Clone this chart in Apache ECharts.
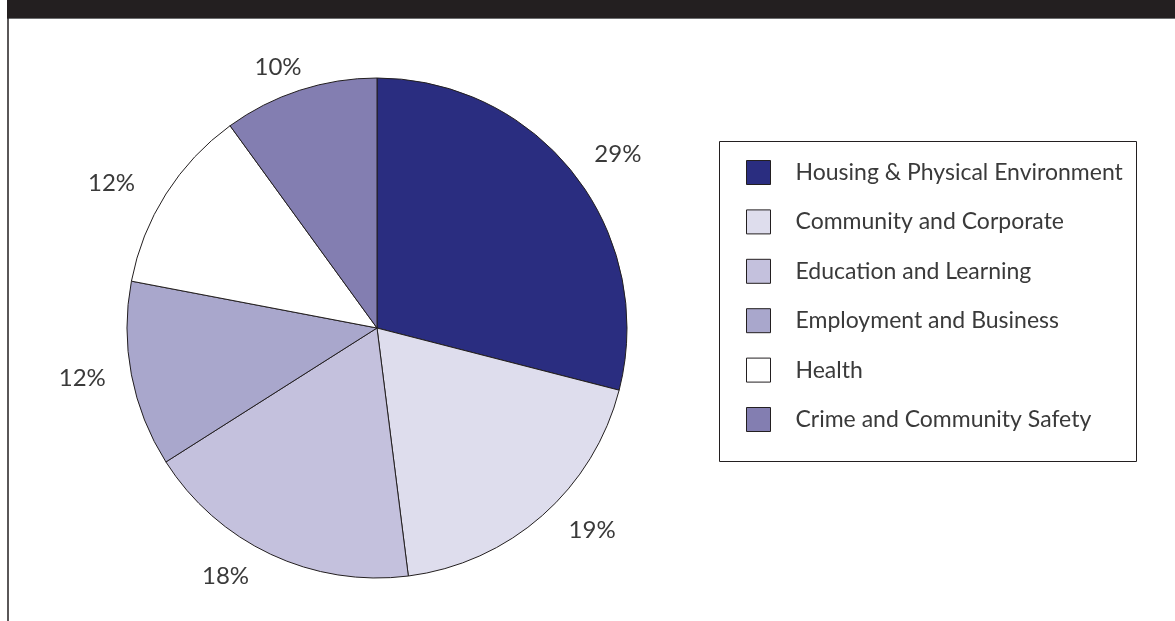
<!DOCTYPE html>
<html>
<head>
<meta charset="utf-8">
<title>Share by theme</title>
<script src="https://cdn.jsdelivr.net/npm/echarts@6/dist/echarts.min.js"></script>
<style>
  html, body { margin: 0; padding: 0; background: #ffffff; }
  #chart { width: 1175px; height: 621px; }
</style>
</head>
<body>
<div id="chart"></div>
<script>
// Themes, their shares (percent) and fill colours
const themes = [
  'Housing & Physical Environment',
  'Community and Corporate',
  'Education and Learning',
  'Employment and Business',
  'Health',
  'Crime and Community Safety'
];
const shares = [29, 19, 18, 12, 12, 10];
const fills = ['#2a2d80', '#dedded', '#c4c1dd', '#a9a7cc', '#ffffff', '#837eb1'];

const ink = '#231f20';
const textColor = '#3a3a3a';
const fontFamily = 'Lato, "Open Sans", sans-serif';

// small per-slice shifts of the percentage labels off the slice bisector
const labelShift = [[0, -8], [9, 0], [-9, 4], [-2, 0], [-10, 0], [12, -4]];

const chart = echarts.init(document.getElementById('chart'), null, { renderer: 'canvas' });

chart.setOption({
  animation: false,
  backgroundColor: '#ffffff',
  graphic: [
    // dark header band
    { type: 'rect', shape: { x: 7, y: 0, width: 1168, height: 18 }, style: { fill: ink }, silent: true },
    { type: 'line', shape: { x1: 7, y1: 18.5, x2: 1175, y2: 18.5 }, style: { stroke: '#6d6e70', lineWidth: 1 }, silent: true },
    // left frame rule
    { type: 'line', shape: { x1: 8, y1: 18, x2: 8, y2: 621 }, style: { stroke: ink, lineWidth: 1.5 }, silent: true },
    // legend frame
    { type: 'rect', shape: { x: 719.5, y: 141.5, width: 417, height: 320 }, style: { fill: 'none', stroke: ink, lineWidth: 1 }, silent: true }
  ],
  legend: {
    orient: 'vertical',
    left: 746,
    top: 160,
    padding: 0,
    itemWidth: 24,
    itemHeight: 24,
    itemGap: 24.4,
    icon: 'rect',
    selectedMode: false,
    data: themes,
    itemStyle: { borderColor: ink, borderWidth: 1 },
    textStyle: {
      color: textColor,
      fontFamily: fontFamily,
      fontSize: 23,
      lineHeight: 24,
      padding: [0, 0, 0, 20]
    }
  },
  series: [{
    type: 'pie',
    center: [377, 328],
    radius: 250,
    startAngle: 90,
    clockwise: true,
    avoidLabelOverlap: false,
    silent: true,
    itemStyle: { borderColor: ink, borderWidth: 1 },
    label: {
      show: true,
      position: 'outside',
      formatter: '{c}%',
      color: textColor,
      fontFamily: fontFamily,
      fontSize: 24,
      distanceToLabelLine: 4
    },
    labelLine: { show: false, length: 20, length2: 0 },
    labelLayout: params => ({
      dx: labelShift[params.dataIndex][0],
      dy: labelShift[params.dataIndex][1]
    }),
    emphasis: { disabled: true },
    data: themes.map((name, i) => ({
      name: name,
      value: shares[i],
      itemStyle: { color: fills[i] }
    }))
  }]
});
</script>
</body>
</html>
